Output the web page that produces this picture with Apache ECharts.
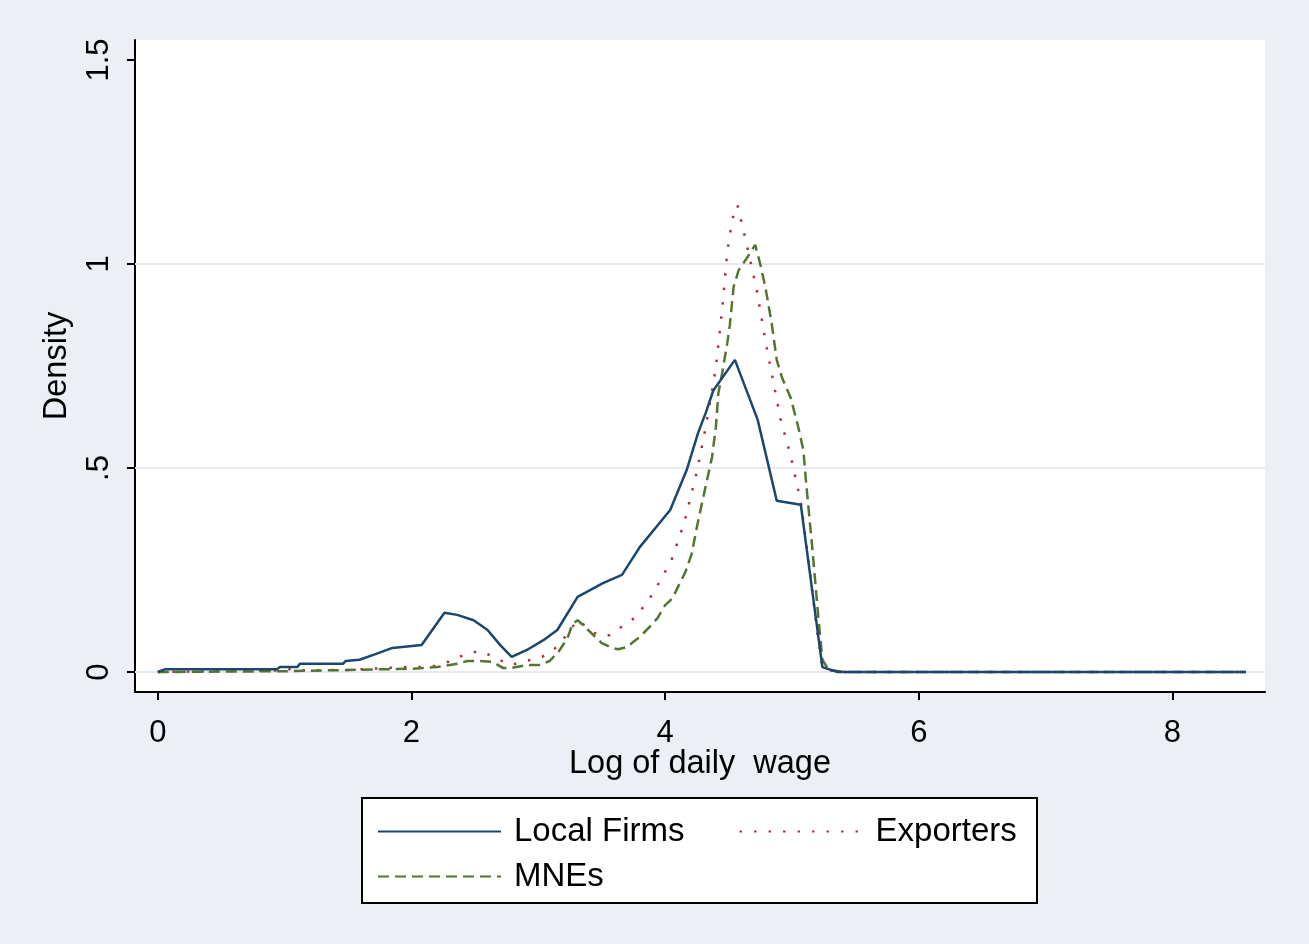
<!DOCTYPE html>
<html>
<head>
<meta charset="utf-8">
<title>Log of daily wage density</title>
<script src="https://cdn.jsdelivr.net/npm/echarts@6/dist/echarts.min.js"></script>
<style>
  html, body { margin: 0; padding: 0; background: #ecf0f6; }
  #chart { width: 1309px; height: 944px; }
</style>
</head>
<body>
<div id="chart"></div>
<script>
// Kernel density estimates of log daily wage, [log wage, density]
const localFirms = [
  [0, 0], [0.06, 0.007], [0.94, 0.007], [0.96, 0.012], [1.10, 0.012], [1.12, 0.02],
  [1.46, 0.02], [1.48, 0.027], [1.59, 0.03], [1.70, 0.042], [1.85, 0.059], [2.08, 0.066],
  [2.26, 0.145], [2.36, 0.14], [2.49, 0.127], [2.60, 0.103], [2.70, 0.066], [2.79, 0.037],
  [2.91, 0.054], [3.04, 0.078], [3.15, 0.103], [3.31, 0.184], [3.51, 0.218], [3.66, 0.238],
  [3.80, 0.306], [4.04, 0.397], [4.17, 0.495], [4.26, 0.586], [4.32, 0.635], [4.38, 0.69],
  [4.55, 0.765], [4.73, 0.618], [4.88, 0.42], [5.07, 0.41], [5.24, 0.012], [5.36, 0],
  [8.58, 0]
];
const exporters = [
  [0, 0], [0.5, 0.002], [1.0, 0.004], [1.06, 0.008], [1.12, 0.004], [1.5, 0.005],
  [1.93, 0.012], [2.15, 0.012], [2.29, 0.025], [2.45, 0.047], [2.55, 0.051], [2.78, 0.017],
  [3.03, 0.037], [3.16, 0.064], [3.25, 0.103], [3.31, 0.127], [3.47, 0.09], [3.56, 0.09],
  [3.77, 0.135], [3.90, 0.19], [4.05, 0.274], [4.15, 0.365], [4.25, 0.49], [4.32, 0.60],
  [4.40, 0.745], [4.45, 0.89], [4.49, 1.03], [4.53, 1.11], [4.57, 1.145], [4.63, 1.066],
  [4.72, 0.94], [4.80, 0.797], [4.91, 0.62], [4.99, 0.53], [5.07, 0.417], [5.13, 0.274],
  [5.20, 0.096], [5.24, 0.012], [5.34, 0], [8.58, 0]
];
const mnes = [
  [0, 0], [1.0, 0.002], [1.5, 0.005], [2.0, 0.008], [2.20, 0.012], [2.36, 0.02],
  [2.44, 0.027], [2.54, 0.027], [2.64, 0.025], [2.72, 0.01], [2.79, 0.01], [2.91, 0.017],
  [3.01, 0.017], [3.09, 0.027], [3.16, 0.05], [3.23, 0.083], [3.27, 0.118], [3.31, 0.127],
  [3.37, 0.11], [3.45, 0.086], [3.50, 0.071], [3.58, 0.059], [3.63, 0.056], [3.70, 0.061],
  [3.75, 0.074], [3.80, 0.086], [3.87, 0.108], [3.94, 0.132], [4.00, 0.164], [4.06, 0.181],
  [4.10, 0.208], [4.16, 0.245], [4.21, 0.29], [4.25, 0.355], [4.33, 0.47], [4.37, 0.527],
  [4.40, 0.60], [4.42, 0.684], [4.45, 0.733], [4.49, 0.806], [4.51, 0.85], [4.54, 0.944],
  [4.58, 0.985], [4.65, 1.017], [4.71, 1.047], [4.75, 1.0], [4.79, 0.944], [4.84, 0.855],
  [4.88, 0.765], [4.92, 0.723], [4.99, 0.672], [5.05, 0.6], [5.09, 0.544], [5.11, 0.47],
  [5.13, 0.404], [5.16, 0.306], [5.21, 0.127], [5.24, 0.03], [5.29, 0.005], [5.42, 0],
  [8.58, 0]
];

const xTicks = [0, 2, 4, 6, 8];
const yTicks = [0, 0.5, 1, 1.5];
const yGridLines = [0, 0.5, 1];
const seriesNames = ['Local Firms', 'Exporters', 'MNEs'];

const FONT = '"Liberation Sans", Arial, sans-serif';
const tickText = { fontFamily: FONT, fontSize: 31, color: '#000' };
const titleText = { fontFamily: FONT, fontSize: 32.5, color: '#000' };
const legendText = { fontFamily: FONT, fontSize: 33, color: '#000', lineHeight: 32, padding: [0, 0, 0, 8] };

const chart = echarts.init(document.getElementById('chart'), null, { renderer: 'canvas' });

// Stata-style tick text: ".5" instead of "0.5"
const fmtY = v => {
  const s = String(v);
  return s.startsWith('0.') ? s.slice(1) : s;
};

const legendCommon = {
  left: 372,
  itemWidth: 123, itemHeight: 32, itemGap: 54,
  itemStyle: { opacity: 0, borderWidth: 0 },
  textStyle: legendText,
  selectedMode: false
};

chart.setOption({
  backgroundColor: '#ecf0f6',
  animation: false,
  grid: {
    left: 135, right: 44, top: 40, bottom: 252,
    show: true, backgroundColor: '#ffffff', borderWidth: 0
  },
  xAxis: {
    type: 'value',
    min: -0.18, max: 8.73,
    name: 'Log of daily  wage',
    nameLocation: 'middle',
    nameGap: 56,
    nameMoveOverlap: false,
    nameTextStyle: titleText,
    axisLine: { show: true, onZero: false, lineStyle: { color: '#000', width: 2 } },
    axisTick: { show: true, customValues: xTicks, length: 8, lineStyle: { color: '#000', width: 2 } },
    axisLabel: Object.assign({ customValues: xTicks, margin: 26 }, tickText),
    splitLine: { show: false }
  },
  yAxis: {
    type: 'value',
    min: -0.049, max: 1.549,
    name: 'Density',
    nameLocation: 'middle',
    nameRotate: 90,
    nameGap: 61,
    nameTextStyle: titleText,
    axisLine: { show: true, onZero: false, lineStyle: { color: '#000', width: 2 } },
    axisTick: { show: true, customValues: yTicks, length: 8, lineStyle: { color: '#000', width: 2 } },
    axisLabel: Object.assign({ customValues: yTicks, margin: 20, rotate: 90, formatter: fmtY }, tickText),
    splitLine: { show: false }
  },
  legend: [
    Object.assign({ data: [seriesNames[0], seriesNames[1]], top: 810 }, legendCommon),
    Object.assign({ data: [seriesNames[2]], top: 855 }, legendCommon)
  ],
  graphic: [
    {
      type: 'rect', left: 361, top: 797, z: -1,
      shape: { width: 675, height: 105 },
      style: { fill: '#ffffff', stroke: '#000000', lineWidth: 2 }
    }
  ],
  series: [
    {
      name: seriesNames[0],
      type: 'line',
      data: localFirms,
      symbol: 'none',
      lineStyle: { color: '#1a476f', width: 2.5 },
      itemStyle: { color: '#1a476f' },
      z: 4,
      markLine: {
        silent: true,
        symbol: 'none',
        label: { show: false },
        lineStyle: { color: '#e6eaef', width: 2, type: 'solid' },
        data: yGridLines.map(v => ({ yAxis: v })),
        z: 1
      }
    },
    {
      name: seriesNames[1],
      type: 'line',
      data: exporters,
      symbol: 'none',
      lineStyle: { color: '#b0303c', width: 2.5, type: [2.5, 12] },
      itemStyle: { color: '#b0303c' },
      z: 3
    },
    {
      name: seriesNames[2],
      type: 'line',
      data: mnes,
      symbol: 'none',
      lineStyle: { color: '#55752f', width: 2.5, type: [11, 6] },
      itemStyle: { color: '#55752f' },
      z: 3
    }
  ]
});
</script>
</body>
</html>
